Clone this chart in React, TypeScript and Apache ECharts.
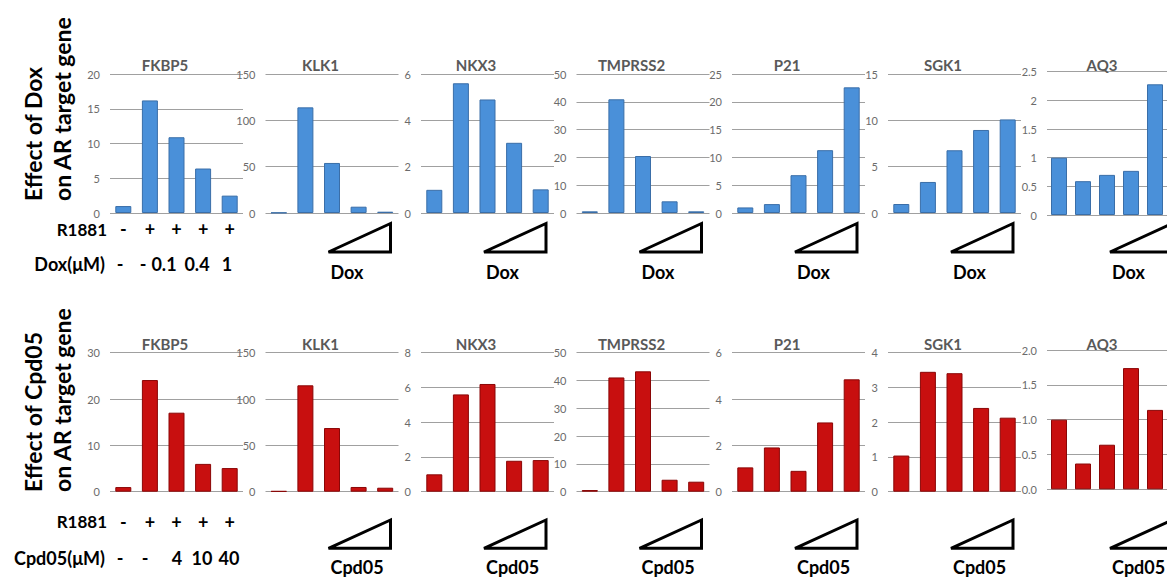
import React, { useEffect, useRef } from 'react';
import * as echarts from 'echarts';

// ---------- data ----------
const genes = ['FKBP5', 'KLK1', 'NKX3', 'TMPRSS2', 'P21', 'SGK1', 'AQ3'];
const conditions = ['c1', 'c2', 'c3', 'c4', 'c5'];
const r1881Signs = ['-', '+', '+', '+', '+'];
const doxDoses = ['-', '-', '0.1', '0.4', '1'];
const cpdDoses = ['-', '-', '4', '10', '40'];

const doxFKBP5 = [1.0, 16.2, 10.9, 6.4, 2.5];
const doxKLK1 = [0.4, 114, 54, 6.8, 1.4];
const doxNKX3 = [1.0, 5.6, 4.9, 3.03, 1.02];
const doxTMPRSS2 = [0.6, 40.9, 20.5, 4.2, 0.6];
const doxP21 = [1.0, 1.6, 6.8, 11.3, 22.6];
const doxSGK1 = [0.97, 3.35, 6.77, 8.96, 10.1];
const doxAQ3 = [1.0, 0.59, 0.7, 0.77, 2.28];

const cpdFKBP5 = [1.0, 24.1, 17.05, 6.0, 5.1];
const cpdKLK1 = [0.7, 114.8, 68.7, 5.1, 4.3];
const cpdNKX3 = [1.0, 5.6, 6.2, 1.78, 1.82];
const cpdTMPRSS2 = [0.6, 41.1, 43.3, 4.3, 3.6];
const cpdP21 = [1.05, 1.91, 0.9, 2.99, 4.85];
const cpdSGK1 = [1.04, 3.45, 3.41, 2.41, 2.13];
const cpdAQ3 = [1.0, 0.37, 0.64, 1.74, 1.14];

const doxAxisMax = [20, 150, 6, 50, 25, 15, 2.5];
const doxAxisStep = [5, 50, 2, 10, 5, 5, 0.5];
const cpdAxisMax = [30, 150, 8, 50, 6, 4, 2];
const cpdAxisStep = [10, 50, 2, 10, 2, 1, 0.5];

// ---------- layout ----------
const W = 1167;
const H = 577;
const panelLeft = [110, 265.5, 421, 576.5, 732, 888, 1047];
const panelWidth = 133;
const FONT = 'Lato, "Open Sans", sans-serif';

const rows = [
  {
    name: 'Dox',
    values: [doxFKBP5, doxKLK1, doxNKX3, doxTMPRSS2, doxP21, doxSGK1, doxAQ3],
    max: doxAxisMax,
    step: doxAxisStep,
    top: [74, 74, 74, 74, 74, 74, 71.7],
    height: [139, 139, 139, 139, 139, 139, 143.3],
    color: '#4a90d9',
    border: '#3a6ea8',
    titleY: 65,
    signMargin: 7,
    doseY: 264,
    doseLabel: 'Dox(\u03bcM)',
    doses: doxDoses,
    doseX: [120, 143, 164, 197, 227],
    r1881Y: 229,
    triTop: 223.5,
    triBottom: 252,
    drugY: 272,
    yTitle: ['Effect of Dox', 'on AR target gene'],
    yTitleBase: 201,
    fixed: false,
  },
  {
    name: 'Cpd05',
    values: [cpdFKBP5, cpdKLK1, cpdNKX3, cpdTMPRSS2, cpdP21, cpdSGK1, cpdAQ3],
    max: cpdAxisMax,
    step: cpdAxisStep,
    top: [352.7, 352.7, 352.7, 352.7, 352.7, 352.7, 350],
    height: [139, 139, 139, 139, 139, 139, 139.3],
    color: '#c80f0f',
    border: '#8a0606',
    titleY: 343.5,
    signMargin: 21,
    doseY: 558,
    doseLabel: 'Cpd05(\u03bcM)',
    doses: cpdDoses,
    doseX: [120, 145, 177, 202, 229],
    r1881Y: 521,
    triTop: 520,
    triBottom: 548.3,
    drugY: 567,
    yTitle: ['Effect of Cpd05', 'on AR target gene'],
    yTitleBase: 492,
    fixed: true,
  },
];

function buildOption() {
  const grid: any[] = [];
  const xAxis: any[] = [];
  const yAxis: any[] = [];
  const series: any[] = [];
  const graphic: any[] = [];

  rows.forEach((row, r) => {
    genes.forEach((gene, g) => {
      const idx = r * genes.length + g;
      grid.push({
        left: panelLeft[g],
        top: row.top[g],
        width: panelWidth,
        height: row.height[g],
        containLabel: false,
      });
      xAxis.push({
        type: 'category',
        gridIndex: idx,
        data: g === 0 ? r1881Signs : conditions,
        axisLine: { show: false },
        axisTick: { show: false },
        axisLabel: {
          show: g === 0,
          margin: row.signMargin,
          color: '#000',
          fontSize: 18,
          fontWeight: 'bold',
          fontFamily: FONT,
        },
      });
      const fixed = row.fixed && g === 6;
      yAxis.push({
        type: 'value',
        gridIndex: idx,
        min: 0,
        max: row.max[g],
        interval: row.step[g],
        axisLine: { show: false },
        axisTick: { show: false },
        axisLabel: {
          color: '#6b6b6b',
          fontSize: 11,
          margin: 10,
          fontFamily: FONT,
          formatter: fixed ? (v: number) => v.toFixed(1) : undefined,
        },
        splitLine: { lineStyle: { color: '#a0a0a0', width: 1 } },
      });
      series.push({
        type: 'bar',
        xAxisIndex: idx,
        yAxisIndex: idx,
        data: row.values[g],
        barWidth: 16,
        itemStyle: { color: row.color, borderColor: row.border, borderWidth: 1 },
        z: 3,
      });
      // gene title
      graphic.push({
        type: 'text',
        x: panelLeft[g] + 55,
        y: row.titleY,
        z: 10,
        style: {
          text: gene,
          fill: '#595959',
          font: `bold 15px ${FONT}`,
          textAlign: 'center',
          textVerticalAlign: 'middle',
        },
      });
      if (g > 0) {
        const L = panelLeft[g];
        graphic.push({
          type: 'polygon',
          z: 10,
          shape: {
            points: [
              [L + 63, row.triBottom],
              [L + 125, row.triBottom],
              [L + 125, row.triTop],
            ],
          },
          style: { fill: 'none', stroke: '#000', lineWidth: 3, lineJoin: 'miter' },
        });
        graphic.push({
          type: 'text',
          x: L + 65,
          y: row.drugY,
          z: 10,
          style: {
            text: row.name,
            fill: '#000',
            font: `bold 18px ${FONT}`,
            textAlign: 'left',
            textVerticalAlign: 'middle',
          },
        });
      }
    });

    // left side annotations
    graphic.push({
      type: 'text',
      x: 107,
      y: row.r1881Y,
      z: 10,
      style: {
        text: 'R1881',
        fill: '#000',
        font: `bold 17px ${FONT}`,
        textAlign: 'right',
        textVerticalAlign: 'middle',
      },
    });
    graphic.push({
      type: 'text',
      x: 105,
      y: row.doseY,
      z: 10,
      style: {
        text: row.doseLabel,
        fill: '#000',
        font: `bold 18px ${FONT}`,
        textAlign: 'right',
        textVerticalAlign: 'middle',
      },
    });
    row.doses.forEach((d, i) => {
      graphic.push({
        type: 'text',
        x: row.doseX[i],
        y: row.doseY,
        z: 10,
        style: {
          text: d,
          fill: '#000',
          font: `bold 18px ${FONT}`,
          textAlign: 'center',
          textVerticalAlign: 'middle',
        },
      });
    });
    row.yTitle.forEach((t, i) => {
      graphic.push({
        type: 'text',
        x: i === 0 ? 33 : 62,
        y: row.yTitleBase,
        rotation: Math.PI / 2,
        z: 10,
        style: {
          text: t,
          fill: '#000',
          font: `bold 23px ${FONT}`,
          textAlign: 'left',
          textVerticalAlign: 'middle',
        },
      });
    });
  });

  return {
    animation: false,
    backgroundColor: '#fff',
    grid,
    xAxis,
    yAxis,
    series,
    graphic,
  };
}

export default function App() {
  const ref = useRef<HTMLDivElement>(null);
  useEffect(() => {
    if (!ref.current) return;
    const chart = echarts.init(ref.current, undefined, { renderer: 'svg' });
    chart.setOption(buildOption() as any);
    return () => chart.dispose();
  }, []);
  return (
    <div
      ref={ref}
      style={{ position: 'fixed', left: 0, top: 0, width: W, height: H, background: '#fff' }}
    />
  );
}
